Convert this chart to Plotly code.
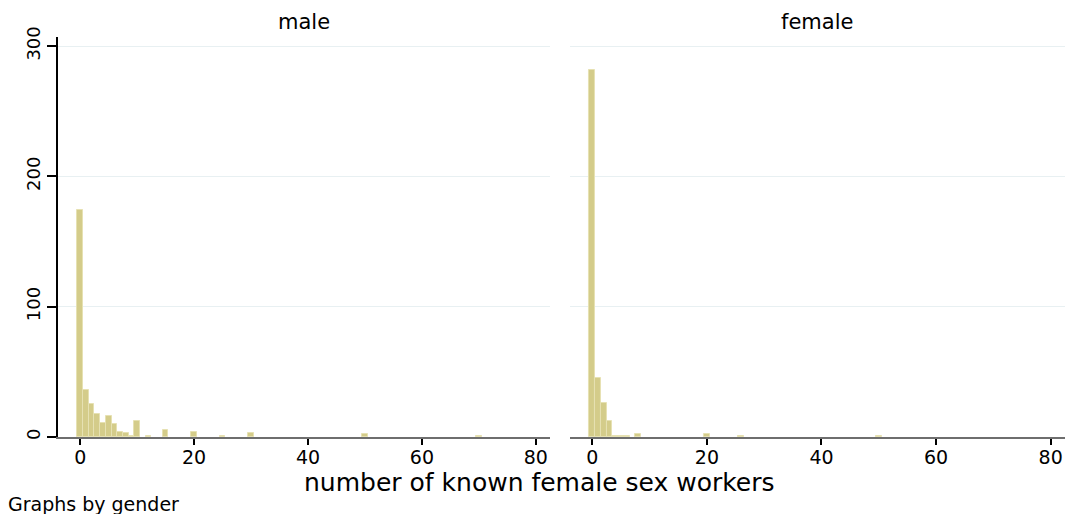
import plotly.graph_objects as go

# Data (discrete histogram, frequency)
male_values = [0, 1, 2, 3, 4, 5, 6, 7, 8, 9, 10, 12, 15, 20, 25, 30, 50, 70]
male_counts = [174, 36, 25, 18, 11, 16, 10, 4, 3, 1, 12, 1, 5, 4, 1, 3, 2, 1]

female_values = [0, 1, 2, 3, 4, 5, 6, 8, 20, 26, 50]
female_counts = [282, 45, 26, 12, 1, 1, 1, 2, 2, 1, 1]

panel_titles = ["male", "female"]
x_ticks = [0, 20, 40, 60, 80]
y_ticks = [0, 100, 200, 300]
x_title = "number of known female sex workers"
note = "Graphs by gender"

FONT = "DejaVu Sans"
BAR_FILL = "#d4cc8a"
BAR_LINE = "#e6e1b2"
GRID = "#e8f0f2"

fig = go.Figure()
fig.add_trace(go.Bar(x=male_values, y=male_counts, width=1,
                     marker=dict(color=BAR_FILL, line=dict(color=BAR_LINE, width=1)),
                     xaxis="x", yaxis="y", showlegend=False))
fig.add_trace(go.Bar(x=female_values, y=female_counts, width=1,
                     marker=dict(color=BAR_FILL, line=dict(color=BAR_LINE, width=1)),
                     xaxis="x2", yaxis="y2", showlegend=False))

xcommon = dict(range=[-3.9, 82.5], tickvals=x_ticks, ticks="outside", ticklen=6,
               tickcolor="#000000", tickwidth=1.5, showline=True, linecolor="#6e6e6e",
               linewidth=1.5, showgrid=False, zeroline=False, automargin=False,
               ticklabelstandoff=-4,
               tickfont=dict(family=FONT, size=19, color="#000000"))
ycommon = dict(range=[0, 307], tickvals=y_ticks, showgrid=True, gridcolor=GRID,
               gridwidth=1, zeroline=False, automargin=False)

fig.update_layout(
    width=1067, height=514,
    margin=dict(l=58, r=2, t=37, b=77),
    paper_bgcolor="white", plot_bgcolor="white",
    bargap=0,
    xaxis=dict(domain=[0, 0.4886], anchor="y", **xcommon),
    xaxis2=dict(domain=[0.5084, 1], anchor="y2", **xcommon),
    yaxis=dict(anchor="x", showline=True, linecolor="#000000", linewidth=1.5,
               ticks="outside", ticklen=9, tickcolor="#000000", tickwidth=1.5,
               tickangle=-90,
               tickfont=dict(family=FONT, size=18, color="#000000"), **ycommon),
    yaxis2=dict(anchor="x2", showline=False, showticklabels=False, ticks="", **ycommon),
    font=dict(family=FONT, color="#000000"),
)

fig.add_annotation(text=panel_titles[0], xref="x domain", yref="paper", x=0.5, y=1.0,
                   yshift=29, xanchor="center", yanchor="top", showarrow=False,
                   font=dict(family=FONT, size=21, color="#000000"))
fig.add_annotation(text=panel_titles[1], xref="x2 domain", yref="paper", x=0.5, y=1.0,
                   yshift=29, xanchor="center", yanchor="top", showarrow=False,
                   font=dict(family=FONT, size=21, color="#000000"))
fig.add_annotation(text=x_title, xref="paper", yref="paper", x=0.4786, y=0,
                   yshift=-29, xanchor="center", yanchor="top", showarrow=False,
                   font=dict(family=FONT, size=25, color="#000000"))
fig.add_annotation(text=note, xref="paper", yref="paper", x=0, y=0,
                   xshift=-52, yshift=-54, xanchor="left", yanchor="top", showarrow=False,
                   font=dict(family=FONT, size=19, color="#000000"))

fig.write_html("out.html", config={"displayModeBar": False},
               post_script="document.body.style.margin='0';document.body.style.overflow='hidden';")
